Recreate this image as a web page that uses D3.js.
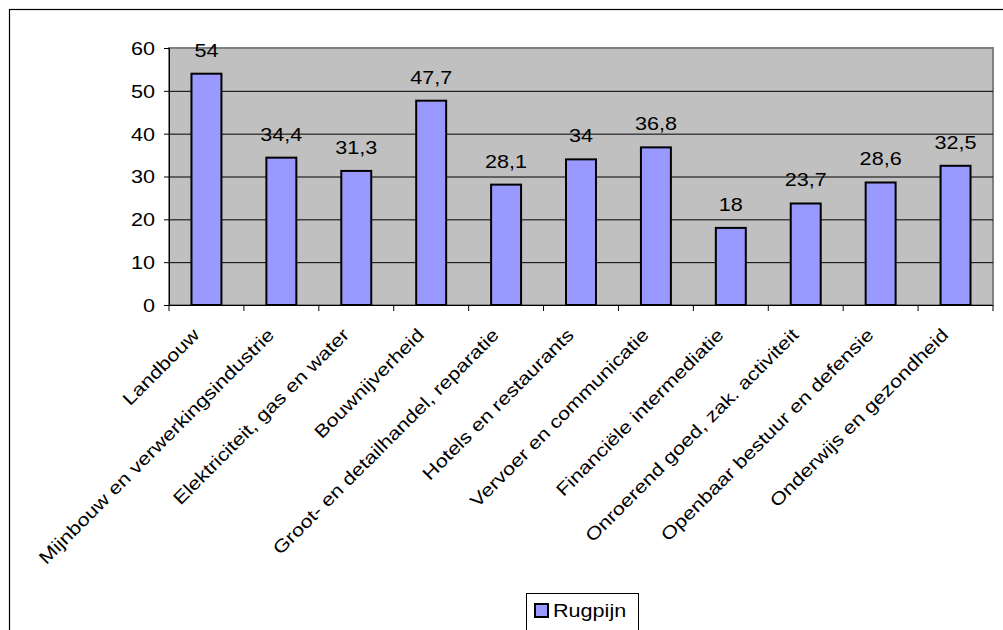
<!DOCTYPE html>
<html>
<head>
<meta charset="utf-8">
<script src="https://cdn.jsdelivr.net/npm/d3@7"></script>
<style>
  html, body { margin: 0; padding: 0; background: #fff; }
  svg { display: block; }
  text { font-family: "Liberation Sans", Arial, sans-serif; fill: #000; }
</style>
</head>
<body>
<svg id="chart" width="1003" height="630"></svg>
<script>
const categories = [
  "Landbouw",
  "Mijnbouw en verwerkingsindustrie",
  "Elektriciteit, gas en water",
  "Bouwnijverheid",
  "Groot- en detailhandel, reparatie",
  "Hotels en restaurants",
  "Vervoer en communicatie",
  "Financiële intermediatie",
  "Onroerend goed, zak. activiteit",
  "Openbaar bestuur en defensie",
  "Onderwijs en gezondheid"
];
const values = [54, 34.4, 31.3, 47.7, 28.1, 34, 36.8, 18, 23.7, 28.6, 32.5];
const valueLabels = ["54", "34,4", "31,3", "47,7", "28,1", "34", "36,8", "18", "23,7", "28,6", "32,5"];
const yTicks = [0, 10, 20, 30, 40, 50, 60];
const seriesName = "Rugpijn";

(function () {
const svg = d3.select("#chart");
const FS = 18, SX = 1.2;
const pLeft = 169, pRight = 993, pTop = 48, pBottom = 305;

// outer frame
svg.append("rect").attr("x", 9.5).attr("y", 9.5).attr("width", 1010).attr("height", 640)
  .attr("fill", "#fff").attr("stroke", "#000").attr("stroke-width", 1.2);

const x = d3.scaleBand().domain(categories).range([pLeft, pRight]).paddingInner(0.6).paddingOuter(0.3);
const y = d3.scaleLinear().domain([0, 60]).range([pBottom, pTop]);

// plot area
svg.append("rect").attr("x", pLeft).attr("y", pTop).attr("width", pRight - pLeft).attr("height", pBottom - pTop)
  .attr("fill", "#C0C0C0").attr("stroke", "#808080").attr("stroke-width", 2);

// gridlines
svg.append("g").selectAll("line").data(yTicks.filter(d => d > 0 && d < 60)).join("line")
  .attr("x1", pLeft).attr("x2", pRight).attr("y1", d => y(d) + 0.5).attr("y2", d => y(d) + 0.5)
  .attr("stroke", "#000").attr("stroke-width", 1);

// y axis
const yAxis = svg.append("g").attr("transform", `translate(${pLeft},0)`)
  .call(d3.axisLeft(y).tickValues(yTicks).tickSize(5).tickPadding(9).tickFormat(d3.format("d")));
yAxis.select(".domain").attr("stroke", "#000").attr("stroke-width", 1);
yAxis.selectAll(".tick line").attr("stroke", "#000");
yAxis.selectAll(".tick text")
  .attr("font-size", FS).attr("font-family", "Liberation Sans, Arial, sans-serif")
  .attr("x", null).attr("dy", null)
  .attr("dominant-baseline", "central")
  .attr("transform", `translate(-14,0) scale(${SX},1)`);

// x axis with ticks at category boundaries
const step = x.step();
const boundaries = d3.range(categories.length + 1).map(i => pLeft + i * step);
svg.append("line").attr("x1", pLeft).attr("x2", pRight).attr("y1", pBottom + 0.5).attr("y2", pBottom + 0.5)
  .attr("stroke", "#000").attr("stroke-width", 1.2);
svg.append("g").selectAll("line").data(boundaries).join("line")
  .attr("x1", d => d).attr("x2", d => d).attr("y1", pBottom).attr("y2", pBottom + 6)
  .attr("stroke", "#000");

// bars
svg.append("g").selectAll("rect").data(values).join("rect")
  .attr("x", (d, i) => x(categories[i]))
  .attr("y", d => y(d))
  .attr("width", x.bandwidth())
  .attr("height", d => y(0) - y(d))
  .attr("fill", "#9999FF").attr("stroke", "#000").attr("stroke-width", 2);

// value labels
svg.append("g").selectAll("text").data(values).join("text")
  .attr("text-anchor", "middle").attr("font-size", FS)
  .attr("transform", (d, i) => `translate(${x(categories[i]) + x.bandwidth() / 2},${y(d) - 17}) scale(${SX},1)`)
  .text((d, i) => valueLabels[i]);

// category labels
svg.append("g").selectAll("text").data(categories).join("text")
  .attr("text-anchor", "end").attr("font-size", FS)
  .attr("transform", d => `translate(${x(d) + x.bandwidth() / 2 - 6},${pBottom + 31}) rotate(-45) scale(${SX},1)`)
  .text(d => d);

// legend
const lg = svg.append("g");
lg.append("rect").attr("x", 526.5).attr("y", 593.5).attr("width", 112).attr("height", 60)
  .attr("fill", "#fff").attr("stroke", "#000").attr("stroke-width", 1);
lg.append("rect").attr("x", 535).attr("y", 604).attr("width", 13).attr("height", 13)
  .attr("fill", "#9999FF").attr("stroke", "#000").attr("stroke-width", 2);
lg.append("text").attr("font-size", FS)
  .attr("transform", `translate(553,617) scale(${SX},1)`).text(seriesName);
})();
</script>
</body>
</html>
